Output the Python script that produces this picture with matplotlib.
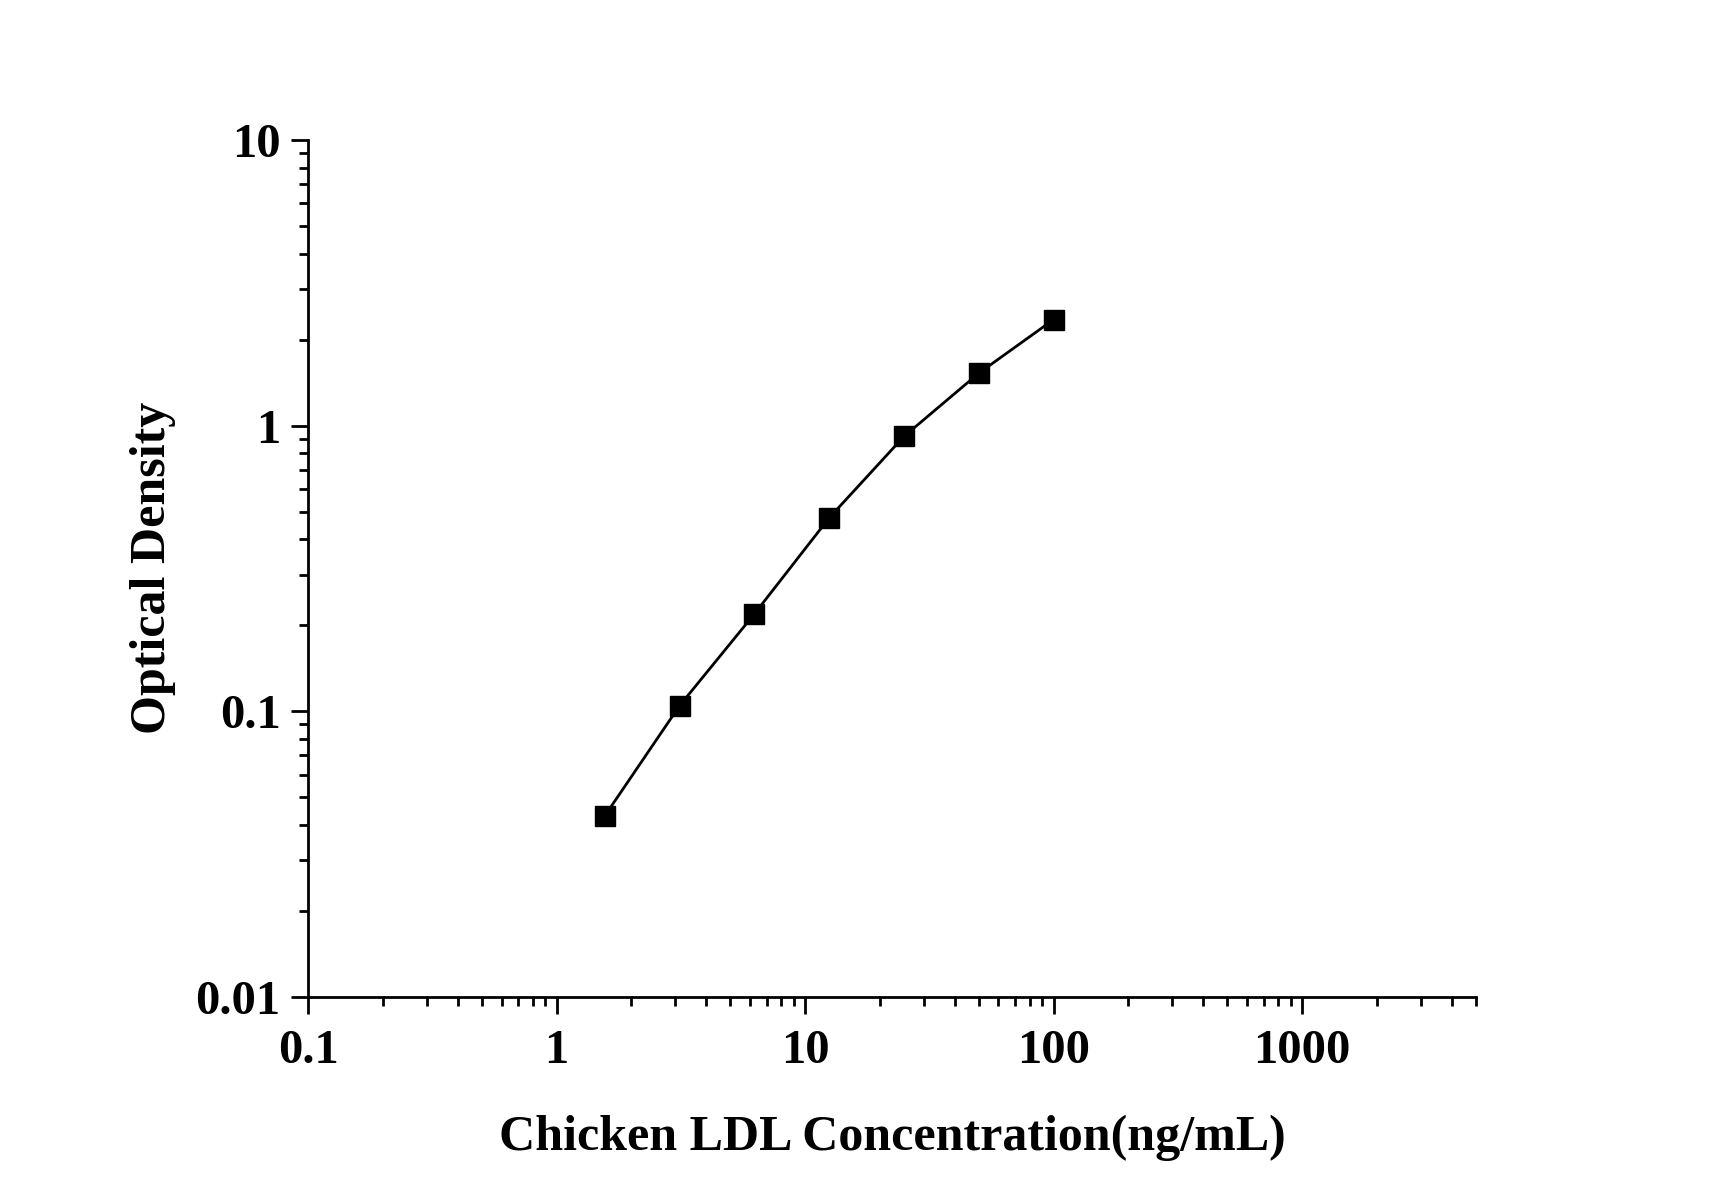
import matplotlib
matplotlib.use("Agg")
import matplotlib.pyplot as plt
from matplotlib.ticker import LogLocator, NullFormatter, FixedLocator, FixedFormatter

concentration = [1.5625, 3.125, 6.25, 12.5, 25, 50, 100]
optical_density = [0.043, 0.1045, 0.219, 0.475, 0.916, 1.525, 2.35]
x_ticks = [0.1, 1, 10, 100, 1000]
x_tick_labels = ["0.1", "1", "10", "100", "1000"]
y_ticks = [0.01, 0.1, 1, 10]
y_tick_labels = ["0.01", "0.1", "1", "10"]

plt.rcParams['font.family'] = ['Liberation Serif', 'DejaVu Serif']
plt.rcParams['font.weight'] = 'bold'

fig = plt.figure(figsize=(17.12, 11.96), dpi=100)
ax = fig.add_axes([0.18, 0.1666, 0.682, 0.7164])

ax.plot(concentration, optical_density, color='black', linewidth=2,
        marker='s', markersize=14, markerfacecolor='black', markeredgecolor='black')

ax.set_xscale('log')
ax.set_yscale('log')
ax.set_xlim(0.1, 5000)
ax.set_ylim(0.01, 10)

ax.xaxis.set_major_locator(FixedLocator(x_ticks))
ax.xaxis.set_major_formatter(FixedFormatter(x_tick_labels))
ax.yaxis.set_major_locator(FixedLocator(y_ticks))
ax.yaxis.set_major_formatter(FixedFormatter(y_tick_labels))
ax.xaxis.set_minor_locator(LogLocator(base=10, subs=range(2, 10), numticks=20))
ax.yaxis.set_minor_locator(LogLocator(base=10, subs=range(2, 10), numticks=20))
ax.xaxis.set_minor_formatter(NullFormatter())
ax.yaxis.set_minor_formatter(NullFormatter())

for s in ['top', 'right']:
    ax.spines[s].set_visible(False)
for s in ['left', 'bottom']:
    ax.spines[s].set_linewidth(2)

ax.tick_params(which='major', direction='out', length=12, width=2, labelsize=35)
ax.tick_params(axis='x', which='major', pad=11)
ax.tick_params(axis='y', which='major', pad=8)
ax.tick_params(which='minor', direction='out', length=6.5, width=2)

ax.set_xlabel('Chicken LDL Concentration(ng/mL)', fontsize=36, fontweight='bold', labelpad=30)
ax.set_ylabel('Optical Density', fontsize=36, fontweight='bold', labelpad=14)

fig.savefig('out.png', dpi=100, facecolor='white')
